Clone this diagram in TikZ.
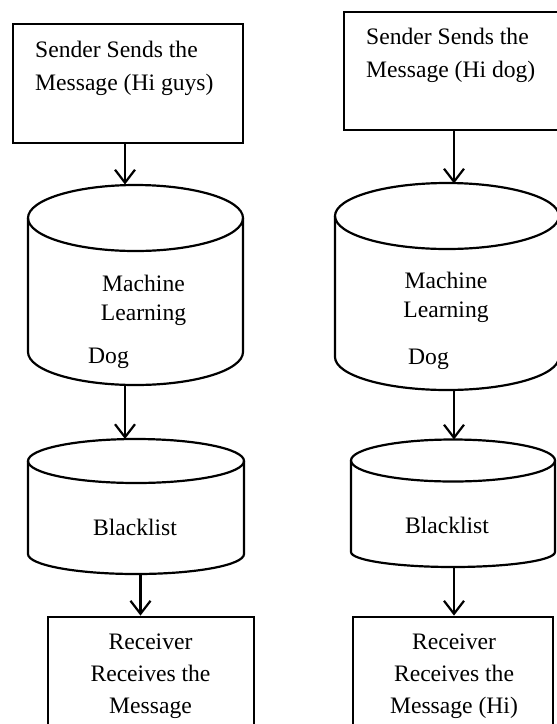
\documentclass[tikz,border=0pt]{standalone}
\usepackage{fontspec}
\setmainfont{Liberation Serif}
\usetikzlibrary{arrows.meta}
% cx, rx, y of top ellipse centre, its y radius, y of bottom ellipse centre, its y radius
\newcommand\drawcyl[6]{%
  \draw[shapeline] (#1,#3) ellipse [x radius=#2, y radius=#4];
  \draw[shapeline] ({#1-#2},#3) -- ({#1-#2},#5)
    arc[start angle=180, end angle=0, x radius=#2, y radius=#6] -- ({#1+#2},#3);
}
\begin{document}
\begin{tikzpicture}[x=1pt,y=-1pt,
  box/.style={draw, line width=2.8pt, inner sep=0pt},
  shapeline/.style={line width=2.2pt},
  flow/.style={line width=2.2pt, -{Straight Barb[length=13pt,width=20pt]}},
  txt/.style={inner sep=0pt, font=\fontsize{23.6}{33}\selectfont},
  txtml/.style={inner sep=0pt, font=\fontsize{23.6}{28.5}\selectfont},
  txtrc/.style={inner sep=0pt, font=\fontsize{23.6}{32}\selectfont}]
\useasboundingbox (0,0) rectangle (557,724);
\clip (0,0) rectangle (557,724);

% ---------- left column ----------
\node[box, minimum width=230pt, minimum height=119pt] (ls) at (128,83.5) {};
\node[txt, anchor=base west, align=left] (lst) at (35,90) {Sender Sends the\\Message (Hi guys)};

\drawcyl{135.5}{107.5}{218}{33}{352}{33}
\node[txtml, anchor=base, align=center] (lml) at (143.5,320) {Machine\\Learning};
\node[txt, anchor=base west] (ldog) at (88,363) {Dog};

\drawcyl{136}{108}{461}{22}{554}{20}
\node[txt, anchor=base] (lbl) at (135,535) {Blacklist};

\node[box, minimum width=206pt, minimum height=143pt] (lr) at (151,688.5) {};
\node[txtrc, anchor=base, align=center] (lrt) at (150.5,713) {Receiver\\Receives the\\Message};

\coordinate (lc1top) at (125,184.5);
\coordinate (lc1bot) at (125,386);
\coordinate (lc2top) at (125,439);
\coordinate (lc2bot) at (140.5,574);

\draw[flow] (ls.south -| lc1top) -- (lc1top);
\draw[flow] (lc1bot) -- (lc2top);
\draw[flow] (lc2bot) -- (lr.north -| lc2bot);

% ---------- right column ----------
\node[box, minimum width=231pt, minimum height=118pt] (rs) at (459.5,71) {};
\node[txt, anchor=base west, align=left] (rst) at (366,77) {Sender Sends the\\Message (Hi dog)};

\drawcyl{447}{112}{216}{33}{357}{33}
\node[txtml, anchor=base, align=center] (rml) at (446,317) {Machine\\Learning};
\node[txt, anchor=base west] (rdog) at (408,364) {Dog};

\drawcyl{453}{102}{460.5}{21}{552}{15}
\node[txt, anchor=base] (rbl) at (447,533) {Blacklist};

\node[box, minimum width=200pt, minimum height=143pt] (rr) at (453,688.5) {};
\node[txtrc, anchor=base, align=center] (rrt) at (454,713) {Receiver\\Receives the\\Message (Hi)};

\coordinate (rc1top) at (454,183.5);
\coordinate (rc1bot) at (454,390);
\coordinate (rc2top) at (454,439.5);
\coordinate (rc2bot) at (454,567);

\draw[flow] (rs.south -| rc1top) -- (rc1top);
\draw[flow] (rc1bot) -- (rc2top);
\draw[flow] (rc2bot) -- (rr.north -| rc2bot);
\end{tikzpicture}
\end{document}
